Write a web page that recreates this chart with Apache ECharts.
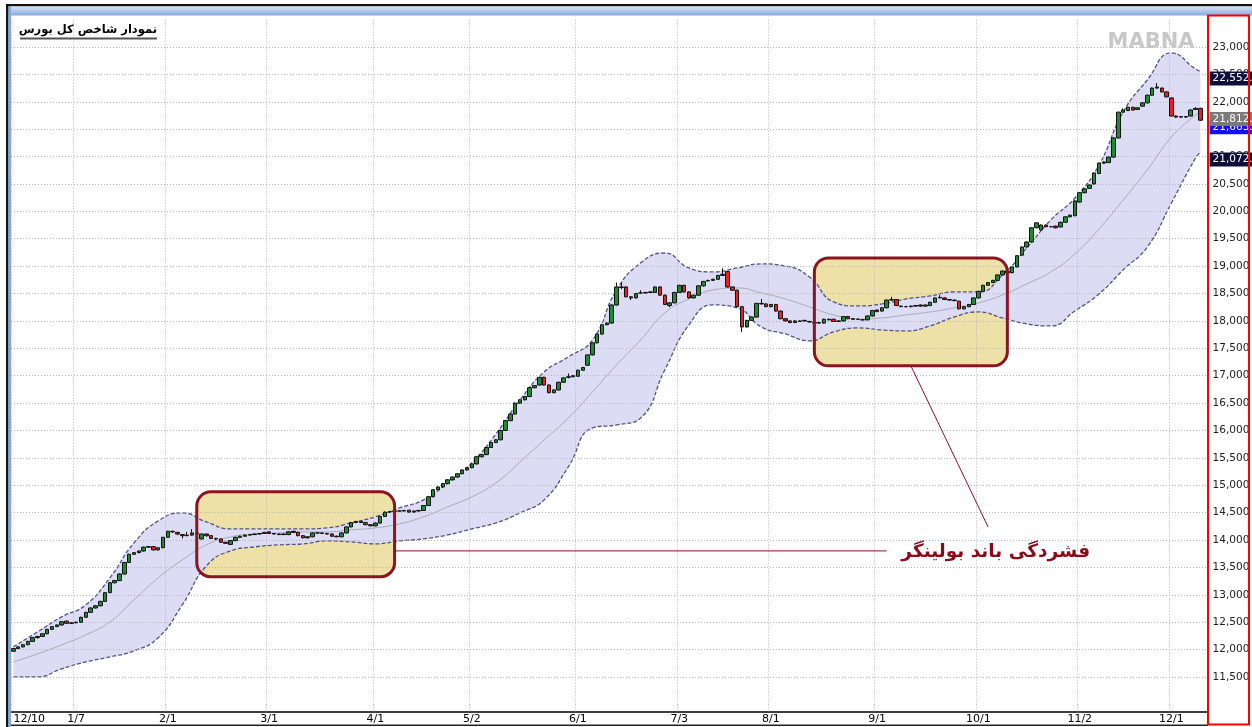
<!DOCTYPE html>
<html>
<head>
<meta charset="utf-8">
<script src="https://cdn.jsdelivr.net/npm/echarts@6/dist/echarts.min.js"></script>
<style>
html, body { margin: 0; padding: 0; background: #fff; }
#main { width: 1252px; height: 727px; }
</style>
</head>
<body>
<div id="main"></div>
<script>
// تاریخ‌های محور افقی و اندیس روز معاملاتی هر کدام
var dateLabels = ['12/10', '1/7', '2/1', '3/1', '4/1', '5/2', '6/1', '7/3', '8/1', '9/1', '10/1', '11/2', '12/1'];
var dateIndex = [0, 13, 32, 53, 75, 95, 117, 138, 157, 179, 200, 221, 240];

// کندل‌ها: [open, close, low, high]
var candles = [
  [11970,12020,11960,12030],[12020,12050,12010,12060],[12050,12090,12040,12100],[12090,12150,12080,12160],
  [12150,12220,12140,12230],[12220,12240,12200,12250],[12240,12290,12230,12300],[12290,12370,12280,12380],
  [12370,12420,12360,12430],[12420,12450,12410,12460],[12450,12510,12440,12520],[12520,12480,12470,12530],
  [12480,12490,12470,12500],[12490,12500,12480,12510],[12500,12590,12490,12600],[12590,12680,12580,12690],
  [12680,12760,12670,12770],[12760,12800,12750,12810],[12800,12880,12790,12890],[12880,13040,12870,13050],
  [13040,13220,13030,13230],[13220,13260,13210,13270],[13260,13380,13250,13390],[13380,13590,13370,13600],
  [13590,13740,13580,13750],[13740,13770,13730,13780],[13770,13800,13760,13810],[13800,13870,13790,13880],
  [13870,13880,13860,13890],[13880,13820,13810,13890],[13820,13860,13810,13870],[13860,14050,13850,14060],
  [14050,14160,14040,14170],[14160,14150,14130,14170],[14140,14110,14090,14150],[14100,14080,14030,14110],
  [14080,14090,14070,14150],
  [14090,14130,14080,14200],[14130,14120,14110,14140],[14020,14110,14010,14120],[14110,14080,14060,14120],
  [14080,14030,14020,14090],[14030,14020,14000,14040],[14020,13960,13950,14030],[13960,13940,13930,13970],
  [13920,13990,13910,14000],[13990,14050,13980,14060],[14050,14070,14040,14080],[14070,14090,14060,14100],
  [14090,14100,14080,14110],[14100,14110,14090,14120],[14110,14120,14100,14130],[14120,14140,14110,14150],
  [14150,14120,14110,14160],[14120,14110,14100,14130],[14110,14100,14090,14120],[14100,14110,14090,14120],
  [14100,14150,14090,14160],[14160,14140,14130,14170],[14140,14080,14070,14150],[14080,14040,14030,14090],
  [14040,14060,14030,14070],[14060,14130,14050,14140],[14130,14130,14120,14140],[14130,14120,14110,14140],
  [14120,14110,14100,14130],[14110,14070,14060,14120],[14070,14060,14050,14080],[14060,14130,14050,14140],
  [14130,14240,14120,14250],[14240,14320,14230,14330],[14320,14340,14310,14350],[14340,14320,14310,14350],
  [14320,14280,14270,14330],[14280,14260,14250,14290],[14260,14310,14250,14320],[14310,14430,14300,14440],
  [14430,14510,14420,14520],[14510,14520,14500,14530],[14520,14530,14510,14540],
  [14530,14530,14520,14540],[14530,14540,14520,14550],[14545,14510,14500,14550],[14510,14530,14500,14540],
  [14530,14540,14520,14550],[14540,14630,14530,14640],[14630,14790,14620,14800],[14790,14920,14780,14930],
  [14920,14970,14910,14980],[14970,15030,14960,15040],[15030,15100,15020,15110],[15100,15150,15090,15160],
  [15150,15210,15140,15220],[15210,15280,15200,15290],[15280,15320,15270,15330],[15320,15390,15310,15400],
  [15390,15520,15380,15530],[15520,15560,15510,15570],[15560,15690,15550,15700],[15690,15780,15680,15790],
  [15780,15830,15770,15840],[15830,16000,15820,16010],[16000,16180,15990,16190],[16180,16300,16170,16310],
  [16300,16500,16290,16510],[16500,16560,16490,16570],[16560,16620,16550,16630],[16620,16780,16610,16790],
  [16780,16820,16770,16830],[16830,16970,16820,16980],[16970,16830,16820,16980],[16830,16690,16680,16840],
  [16690,16740,16680,16750],[16740,16880,16730,16890],[16880,16960,16870,16970],[16970,16980,16950,17040],
  [16980,17000,16970,17010],[16990,17100,16980,17110],[17100,17150,17090,17160],[17190,17380,17180,17390],
  [17380,17600,17370,17610],[17600,17760,17590,17770],[17760,17930,17750,17940],[17930,17960,17920,17970],
  [17960,18290,17950,18300],[18290,18620,18280,18700],[18620,18610,18580,18700],[18620,18440,18430,18630],
  [18440,18420,18380,18450],[18420,18500,18410,18510],[18510,18510,18500,18560],[18510,18520,18500,18530],
  [18520,18530,18510,18540],[18520,18620,18510,18630],[18620,18470,18460,18630],[18470,18300,18290,18480],
  [18280,18330,18250,18340],[18330,18520,18320,18530],[18520,18650,18510,18660],[18650,18530,18520,18660],
  [18530,18420,18410,18540],[18420,18470,18410,18480],[18470,18640,18460,18650],[18640,18720,18630,18730],
  [18730,18740,18720,18750],[18740,18760,18730,18770],[18760,18830,18750,18840],[18830,18850,18820,18960],
  [18900,18620,18610,18910],[18620,18560,18550,18630],[18560,18260,18250,18570],[18260,17890,17800,18270],
  [17890,18010,17880,18020],[18010,18070,18000,18080],[18070,18320,18060,18330],[18320,18310,18300,18400],
  [18310,18260,18250,18320],[18260,18300,18250,18310],[18300,18180,18170,18310],[18180,18040,18030,18190],
  [18040,18000,17990,18050],[18000,17970,17960,18010],[17970,18000,17960,18010],
  [17990,18000,17980,18010],[18000,18010,17990,18020],[17990,17980,17970,18000],[17970,17960,17950,17980],
  [17960,17970,17950,17980],[17960,18030,17950,18040],[18030,18020,18010,18040],[18030,17990,17980,18040],
  [17990,18000,17980,18010],[18000,18080,17990,18090],[18080,18040,18030,18090],[18040,18030,18020,18050],
  [18030,18030,18020,18040],[18020,18020,18010,18030],[18020,18090,18010,18100],[18090,18190,18080,18200],
  [18200,18170,18160,18210],[18180,18240,18170,18250],[18240,18380,18230,18390],[18380,18390,18370,18440],
  [18390,18280,18270,18400],[18270,18260,18250,18280],[18260,18260,18250,18270],[18260,18270,18250,18280],
  [18270,18280,18260,18290],[18290,18270,18260,18300],[18270,18290,18260,18300],[18280,18340,18270,18350],
  [18340,18420,18330,18430],[18420,18430,18410,18470],[18420,18390,18380,18430],[18390,18380,18370,18400],
  [18380,18370,18360,18390],[18360,18220,18210,18370],[18220,18260,18210,18270],[18260,18300,18250,18310],
  [18300,18420,18290,18430],[18420,18540,18410,18550],[18540,18650,18530,18660],[18650,18700,18640,18710],
  [18700,18740,18690,18750],[18740,18840,18730,18850],[18840,18910,18830,18920],
  [18910,18880,18870,18920],[18880,18985,18870,18990],[18985,19190,18980,19200],[19200,19350,19190,19360],
  [19350,19440,19340,19450],[19440,19700,19430,19710],[19700,19790,19690,19800],[19660,19750,19650,19760],
  [19750,19720,19710,19760],[19720,19720,19710,19730],[19730,19700,19690,19740],[19715,19800,19710,19810],
  [19800,19900,19790,19910],[19900,19930,19890,19940],[19920,20190,19910,20200],[20170,20340,20160,20350],
  [20340,20410,20330,20420],[20420,20480,20410,20490],[20500,20700,20490,20710],[20690,20880,20680,20890],
  [20880,20900,20870,20910],[20890,20990,20880,21000],[20990,21340,20980,21350],[21340,21810,21330,21820],
  [21810,21850,21800,21880],[21840,21900,21830,21910],[21900,21850,21840,21910],[21860,21890,21850,21900],
  [21920,21980,21910,21990],[21980,22120,21970,22130],[22120,22250,22110,22260],[22250,22270,22240,22340],
  [22250,22180,22170,22260],[22180,22090,22080,22190],[22070,21740,21730,22080],[21740,21720,21710,21750],
  [21720,21730,21710,21740],[21730,21720,21710,21740],[21740,21850,21730,21860],[21860,21880,21850,21900],
  [21880,21663.8,21650,21890]
];
var lastClose = 21663.8;

// باند بولینگر (خوانده شده از تصویر، هر ۵ روز)
var bandIndex = [0,5,10,15,20,25,30,35,40,45,50,55,60,65,70,75,80,85,90,95,100,105,110,115,120,125,
  130,135,140,145,150,155,160,165,170,175,180,185,190,195,200,205,210,215,220,225,230,235,240,245,246];
var upperBand = [12050,12324,12598,12817,13310,13948,14350,14496,14331,14203,14203,14203,14203,14222,14313,
  14423,14587,14733,15043,15408,15937,16558,17069,17343,17650,18560,19060,19240,18967,18894,18967,19040,
  19003,18802,18346,18273,18310,18401,18456,18529,18529,18839,19332,19843,20244,20847,21814,22398,22891,
  22599,22552.3];
var middleBand = [11776,11922,12087,12269,12506,12908,13309,13638,13912,14058,14112,14130,14149,14149,14185,
  14222,14295,14423,14605,14788,15043,15426,15828,16229,16704,17197,17653,18146,18401,18565,18602,18511,
  18401,18255,18109,18036,18054,18109,18164,18237,18328,18474,18675,18894,19222,19679,20208,20755,21357,
  21759,21812.2];
var lowerBand = [11502,11502,11649,11776,11868,11977,12215,12817,13528,13802,13875,13912,13930,13985,13966,
  13930,13985,14021,14094,14204,14313,14496,14733,15335,16047,16102,16229,17105,17927,18292,18237,17890,
  17762,17636,17799,17872,17835,17817,17908,18073,18164,18054,17945,17908,18182,18493,18931,19350,20153,
  20974,21072.1];

// کادرهای فشردگی باند: [اندیس شروع، اندیس پایان، سقف، کف]
var squeezeBoxes = [[38, 79, 14880, 13330], [166, 206, 19150, 17180]];

var categories = [];
for (var i = 0; i < 248; i++) categories.push(String(i));

function isDate(index) { return dateIndex.indexOf(index) >= 0; }
function fmt1(v) { return v.toLocaleString('en-US', {minimumFractionDigits: 1, maximumFractionDigits: 1}); }

var baseData = bandIndex.map(function (x, k) { return [x, lowerBand[k]]; });
var widthData = bandIndex.map(function (x, k) { return [x, upperBand[k] - lowerBand[k]]; });
var lowerData = bandIndex.map(function (x, k) { return [x, lowerBand[k]]; });
var middleData = bandIndex.map(function (x, k) { return [x, middleBand[k]]; });

var gridLine = {color: '#b4b4b4', type: [1, 2], width: 1};
var bandLine = {color: '#545482', type: [4, 2], width: 1.3};
var last = bandIndex.length - 1;

var chart = echarts.init(document.getElementById('main'));
var option = {
  animation: false,
  backgroundColor: '#fff',
  grid: {left: 11, right: 44.4, top: 19.6, bottom: 22.6, containLabel: false, outerBoundsMode: 'none'},
  xAxis: {
    type: 'category',
    data: categories,
    boundaryGap: true,
    offset: 7,
    z: 3,
    axisLine: {lineStyle: {color: '#000', width: 1.5}},
    axisTick: {show: true, inside: true, length: 7, interval: isDate, lineStyle: gridLine},
    axisLabel: {
      interval: isDate,
      margin: 2,
      color: '#000',
      fontSize: 11,
      fontFamily: 'DejaVu Sans',
      alignMinLabel: 'left',
      formatter: function (v, idx) { return dateLabels[dateIndex.indexOf(idx)] || ''; }
    },
    splitLine: {show: true, interval: isDate, lineStyle: gridLine}
  },
  yAxis: {
    type: 'value',
    position: 'right',
    min: 11000,
    max: 23500,
    interval: 500,
    z: 3,
    axisLine: {show: false},
    axisTick: {show: false},
    axisLabel: {
      margin: 5,
      color: '#222',
      fontSize: 10.5,
      fontFamily: 'DejaVu Sans',
      showMinLabel: false,
      showMaxLabel: false,
      formatter: function (v) { return v.toLocaleString('en-US'); }
    },
    splitLine: {show: true, showMinLine: false, showMaxLine: false, lineStyle: gridLine}
  },
  series: [
    {
      name: 'base', type: 'line', stack: 'bb', data: baseData, smooth: 0.5,
      showSymbol: false, silent: true, lineStyle: {opacity: 0}, z: 2
    },
    {
      name: 'band', type: 'line', stack: 'bb', data: widthData, smooth: 0.5,
      showSymbol: false, silent: true, lineStyle: bandLine,
      areaStyle: {color: '#dcdcf4', opacity: 1}, z: 2
    },
    {
      name: 'lower', type: 'line', data: lowerData, smooth: 0.5,
      showSymbol: false, silent: true, lineStyle: bandLine, z: 2
    },
    {
      name: 'middle', type: 'line', data: middleData, smooth: 0.5,
      showSymbol: false, silent: true, lineStyle: {color: '#aaaab8', width: 1}, z: 2
    },
    {
      name: 'index', type: 'candlestick', data: candles, barWidth: 4, z: 4,
      itemStyle: {
        color: '#1d8a34', color0: '#ee1c24',
        borderColor: '#111', borderColor0: '#111', borderWidth: 1
      },
      markLine: {
        symbol: 'none', silent: true, animation: false,
        lineStyle: {color: 'rgba(0,0,0,0)', width: 0.01, type: 'solid'},
        label: {
          show: true, position: 'end', distance: 2, color: '#fff', fontSize: 10.5,
          fontFamily: 'DejaVu Sans', padding: [2, 6, 1, 3], offset: [0, 7]
        },
        data: [
          {yAxis: lastClose, label: {backgroundColor: '#1010f0', formatter: fmt1(lastClose)}},
          {yAxis: upperBand[last], label: {backgroundColor: '#0e0e3a', formatter: fmt1(upperBand[last])}},
          {yAxis: middleBand[last], label: {backgroundColor: '#7a7a7a', formatter: fmt1(middleBand[last])}},
          {yAxis: lowerBand[last], label: {backgroundColor: '#0e0e3a', formatter: fmt1(lowerBand[last])}}
        ]
      }
    }
  ]
};
chart.setOption(option);

function px(p) { return chart.convertToPixel({gridIndex: 0}, p); }

var g = [];
// قاب پنجره
g.push({type: 'rect', z: 20, shape: {x: 6, y: 4, width: 1246, height: 2.5}, style: {fill: '#151515'}});
g.push({type: 'rect', z: 20, shape: {x: 8.5, y: 6.5, width: 1244, height: 9},
  style: {fill: new echarts.graphic.LinearGradient(0, 0, 0, 1, [{offset: 0, color: '#d8e6f8'}, {offset: 1, color: '#86a9dc'}])}});
g.push({type: 'rect', z: 20, shape: {x: 6, y: 4, width: 2.5, height: 723}, style: {fill: '#151515'}});
g.push({type: 'rect', z: 20, shape: {x: 8.5, y: 6.5, width: 2.5, height: 721}, style: {fill: '#86a9dc'}});
g.push({type: 'rect', z: 20, shape: {x: 11, y: 724.5, width: 1197, height: 1.5}, style: {fill: '#222'}});
// کادر قرمز محور قیمت
g.push({type: 'rect', z: 20, shape: {x: 1208, y: 15.5, width: 41, height: 709}, style: {fill: 'none', stroke: '#ff0000', lineWidth: 2}});

// کادرهای فشردگی
squeezeBoxes.forEach(function (b) {
  var a = px([b[0], b[2]]), c = px([b[1], b[3]]);
  var shape = {x: a[0], y: a[1], width: c[0] - a[0], height: c[1] - a[1], r: 14};
  g.push({type: 'rect', z: 1, shape: shape, style: {fill: '#ede1a8'}});
  g.push({type: 'rect', z: 10, shape: shape, style: {fill: 'none', stroke: '#8a1422', lineWidth: 3}});
});

// خطوط اشاره و متن
var b1 = px([squeezeBoxes[0][1], 13802]);
var t1 = px([181, 13802]);
g.push({type: 'line', z: 10, shape: {x1: b1[0], y1: b1[1], x2: t1[0], y2: t1[1]}, style: {stroke: '#8a1422', lineWidth: 1}});
var b2 = px([186, squeezeBoxes[1][3]]);
var t2 = px([202, 14240]);
g.push({type: 'line', z: 10, shape: {x1: b2[0], y1: b2[1], x2: t2[0], y2: t2[1]}, style: {stroke: '#8a1422', lineWidth: 1}});
var tp = px([204, 13784]);
g.push({type: 'text', z: 10, x: tp[0] - 2, y: tp[1],
  style: {text: 'فشردگی باند بولینگر', fill: '#8a0a18', font: 'bold 18.5px "DejaVu Sans"', textAlign: 'center', textVerticalAlign: 'middle'}});

// عنوان و واترمارک
g.push({type: 'text', z: 10, x: 157, y: 30,
  style: {text: 'نمودار شاخص کل بورس', fill: '#000', font: 'bold 11.5px "DejaVu Sans"', textAlign: 'right', textVerticalAlign: 'middle'}});
g.push({type: 'rect', z: 10, shape: {x: 20, y: 37.5, width: 137, height: 2}, style: {fill: '#555'}});
g.push({type: 'text', z: 10, x: 1151, y: 43,
  style: {text: 'MABNA', fill: '#c8c8c8', font: 'bold 21px "DejaVu Sans"', textAlign: 'center', textVerticalAlign: 'middle'}});

chart.setOption({graphic: {elements: g}});
</script>
</body>
</html>
